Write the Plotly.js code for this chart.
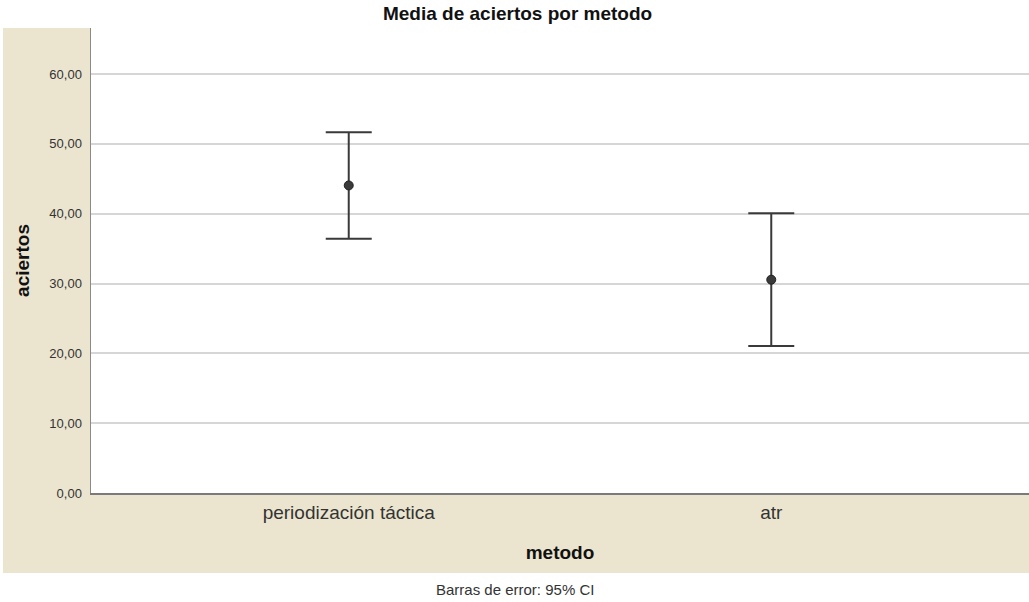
<!DOCTYPE html>
<html>
<head>
<meta charset="utf-8">
<script src="https://cdn.plot.ly/plotly-3.0.1.min.js"></script>
<style>html,body{margin:0;padding:0;background:#fff;}#chart{width:1029px;height:602px;}</style>
</head>
<body>
<div id="chart"></div>
<script>
const categories = ["periodización táctica", "atr"];
const means = [44.05, 30.55];
const ciHalf = [7.63, 9.5];
const yTickVals = [0, 10, 20, 30, 40, 50, 60];

const trace = {
  type: "scatter",
  mode: "markers",
  x: categories,
  y: means,
  marker: {color: "#3a3a3a", size: 9, line: {color: "#222", width: 1}},
  error_y: {type: "data", array: ciHalf, visible: true, color: "#3a3a3a", thickness: 2, width: 23},
  hoverinfo: "x+y",
  showlegend: false
};

const beige = "#ebe5d0";
const layout = {
  width: 1029, height: 602,
  margin: {l: 91, r: 0, t: 28, b: 109},
  paper_bgcolor: "#ffffff",
  plot_bgcolor: "#ffffff",
  separators: ",.",
  font: {family: "Arial, Liberation Sans, sans-serif", color: "#333"},
  title: {text: "<b>Media de aciertos por metodo</b>", font: {size: 19, color: "#111"}, x: 0.503, xanchor: "center", y: 0.978, yanchor: "middle", yref: "container"},
  xaxis: {
    type: "category",
    range: [-0.61, 1.61],
    showgrid: false,
    zeroline: false,
    showline: true, linecolor: "#7a7a7a", linewidth: 2,
    ticks: "",
    ticklabelstandoff: 1,
    tickfont: {size: 19, color: "#333"},
    title: {text: "<b>metodo</b>", font: {size: 19, color: "#111"}, standoff: 24}
  },
  yaxis: {
    range: [0, 66.6],
    tickvals: yTickVals,
    tickformat: ".2f",
    showgrid: true, gridcolor: "#d6d6d6", gridwidth: 2,
    zeroline: false,
    showline: true, linecolor: "#8a8a8a", linewidth: 1.5,
    ticks: "",
    ticklabelstandoff: 5,
    tickfont: {size: 13, color: "#333"},
    title: {text: "<b>aciertos</b>", font: {size: 19, color: "#111"}, standoff: 14}
  },
  shapes: [
    {type: "rect", xref: "paper", yref: "paper", x0: -0.0938, x1: 0, y0: 0, y1: 1, fillcolor: beige, line: {width: 0}, layer: "below"},
    {type: "rect", xref: "paper", yref: "paper", x0: -0.0938, x1: 1, y0: -0.172, y1: 0, fillcolor: beige, line: {width: 0}, layer: "below"}
  ],
  annotations: [
    {text: "Barras de error: 95% CI", xref: "paper", yref: "paper", x: 0.452, y: -0.2086, xanchor: "center", yanchor: "middle", showarrow: false, font: {size: 15, color: "#333"}}
  ]
};

Plotly.newPlot("chart", [trace], layout, {displayModeBar: false, staticPlot: true});
</script>
</body>
</html>
